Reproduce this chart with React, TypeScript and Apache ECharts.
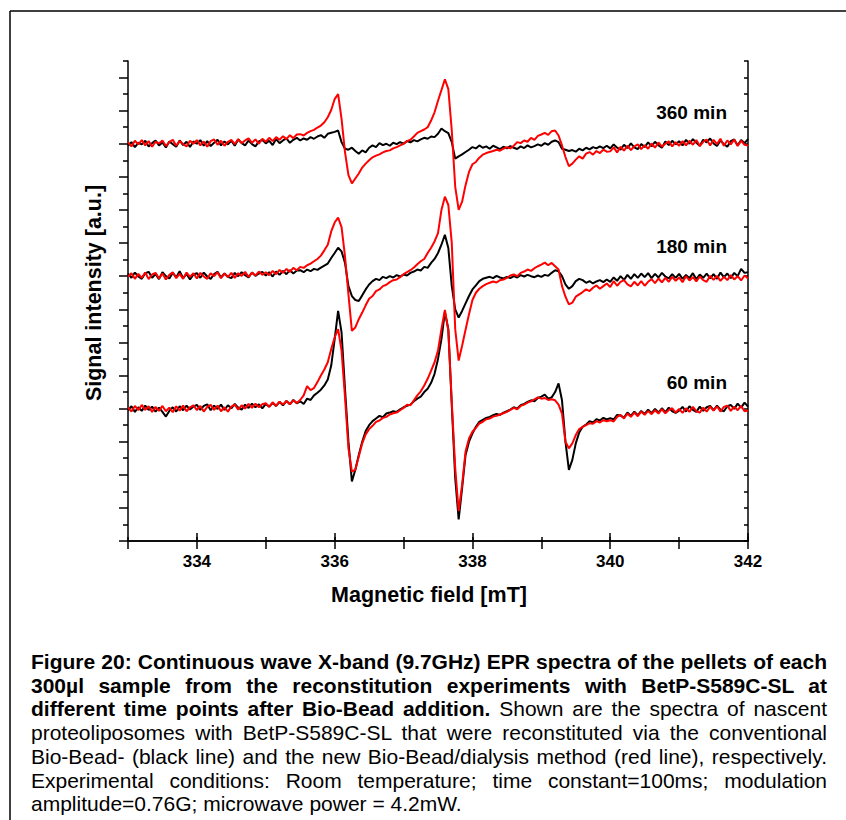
import React, { useEffect, useRef } from "react";
import * as echarts from "echarts";

// Magnetic field grid of the sweep (mT), 333.00 … 342.00 in 0.05 mT steps
const FIELD: number[] = Array.from({ length: 181 }, (_, i) => Number((333 + i * 0.05).toFixed(2)));

// Vertical offsets (in major-tick units) of the three stacked spectra
const OFFSET_360 = 12;
const OFFSET_180 = 8;
const OFFSET_60 = 4;

// Signal (major-tick units, relative to each baseline)
const BLACK_360 = [
  -0.06, 0.05, -0.1, 0.03, -0.02, 0.09, -0.08, 0.02, 0.1, -0.05,
  0.04, -0.11, 0.07, -0.01, -0.09, 0.1, -0.04, 0.06, -0.1, 0.07,
  0.0, 0.11, -0.06, 0.08, -0.07, 0.03, 0.12, -0.05, 0.07, -0.02,
  0.09, -0.06, 0.13, 0.02, -0.05, 0.1, -0.01, -0.08, 0.07, 0.12,
  0.01, 0.09, -0.04, 0.14, 0.02, 0.1, 0.16, 0.03, 0.12, 0.18,
  0.1, 0.16, 0.12, 0.2, 0.15, 0.22, 0.26, 0.18, 0.3, 0.33,
  0.36, 0.4, 0.05, -0.15, -0.18, -0.12, -0.22, -0.3, -0.2, -0.26,
  -0.12, -0.05, -0.1, 0.02, -0.04, 0.0, -0.06, 0.03, -0.01, 0.05,
  0.0, 0.08, 0.04, 0.11, 0.07, 0.13, 0.18, 0.15, 0.22, 0.2,
  0.3, 0.46, 0.38, 0.32, 0.05, -0.45, -0.38, -0.32, -0.25, -0.18,
  -0.1, -0.14, -0.05, -0.12, -0.08, -0.15, -0.06, -0.11, -0.16, -0.09,
  -0.14, -0.07, -0.12, -0.16, -0.08, -0.13, -0.05, -0.11, -0.07, -0.02,
  -0.06, 0.02, -0.03, 0.06, 0.1, 0.05, -0.15, -0.18, -0.22, -0.19,
  -0.24, -0.15, -0.2, -0.12, -0.17, -0.1, -0.14, -0.08, -0.13, -0.06,
  -0.14, -0.02, -0.12, -0.18, -0.03, -0.13, 0.01, -0.11, -0.16, -0.01,
  -0.1, 0.04, -0.08, 0.06, -0.05, -0.12, 0.07, -0.04, 0.09, -0.02,
  0.08, -0.05, 0.12, 0.0, 0.14, 0.03, -0.06, 0.12, 0.04, 0.16,
  0.01, -0.07, 0.1, -0.01, -0.09, 0.08, 0.13, -0.05, 0.11, 0.02,
  0.14,
];

const RED_360 = [
  0.05, -0.08, 0.09, -0.02, 0.11, -0.05, 0.08, -0.09, 0.06, 0.01,
  0.1, -0.07, 0.05, 0.12, -0.06, 0.08, -0.01, -0.08, 0.09, 0.0,
  0.11, -0.05, 0.07, -0.09, 0.08, 0.13, -0.03, 0.09, -0.06, 0.06,
  0.12, -0.01, 0.14, 0.02, 0.1, 0.16, 0.03, 0.13, 0.0, 0.15,
  0.06, 0.18, 0.08, 0.2, 0.12, 0.23, 0.14, 0.26, 0.17, 0.28,
  0.29, 0.25, 0.33, 0.38, 0.42, 0.49, 0.55, 0.65, 0.8, 1.02,
  1.35, 1.5, 0.75, -0.25, -0.95, -1.2, -1.05, -0.9, -0.72, -0.6,
  -0.5, -0.41, -0.36, -0.32, -0.26, -0.22, -0.2, -0.14, -0.1, -0.05,
  0.0, 0.08, 0.12, 0.22, 0.33, 0.38, 0.43, 0.5, 0.7, 0.95,
  1.3, 1.62, 1.95, 1.65, 0.4, -1.3, -2.0, -1.75, -1.25, -0.85,
  -0.62, -0.55, -0.42, -0.33, -0.28, -0.25, -0.22, -0.18, -0.21, -0.15,
  -0.1, -0.14, -0.06, 0.05, 0.02, 0.1, 0.06, 0.18, 0.12, 0.24,
  0.28, 0.33, 0.27, 0.38, 0.4, 0.25, -0.05, -0.4, -0.68, -0.6,
  -0.48, -0.38, -0.45, -0.3, -0.25, -0.33, -0.22, -0.28, -0.18, -0.24,
  -0.23, -0.11, -0.26, -0.09, -0.21, -0.06, -0.19, -0.08, -0.02, -0.16,
  -0.04, -0.15, 0.01, -0.12, 0.04, -0.09, 0.0, 0.07, -0.08, 0.05,
  -0.06, 0.08, -0.05, 0.09, -0.03, 0.11, -0.07, 0.06, 0.13, -0.05,
  0.12, -0.01, 0.15, -0.06, 0.1, -0.02, 0.13, -0.07, 0.09, -0.03,
  -0.05,
];

const BLACK_180 = [
  0.08, -0.05, 0.11, -0.01, -0.08, 0.09, 0.13, -0.05, 0.06, -0.09,
  0.12, 0.0, -0.07, 0.1, -0.03, 0.15, -0.06, 0.07, -0.1, 0.05,
  0.09, -0.05, 0.11, -0.01, -0.08, 0.06, 0.13, -0.04, 0.08, -0.02,
  -0.06, 0.1, 0.0, 0.12, 0.03, -0.04, 0.11, 0.01, 0.08, 0.13,
  0.02, 0.12, -0.01, 0.14, 0.04, 0.16, 0.06, 0.18, 0.08, 0.17,
  0.18, 0.12, 0.2, 0.15, 0.22, 0.19, 0.26, 0.32, 0.38, 0.55,
  0.7, 0.86, 0.75, 0.4, -0.3, -0.6, -0.72, -0.75, -0.58, -0.4,
  -0.25, -0.15, -0.08, -0.12, -0.02, -0.06, 0.0, -0.04, 0.03, -0.01,
  0.05, 0.02, 0.1, 0.14, 0.2, 0.17, 0.28, 0.25, 0.4, 0.52,
  0.7, 0.95, 1.25, 0.85, -0.3, -1.0, -1.25, -1.05, -0.82, -0.6,
  -0.4, -0.28, -0.15, -0.08, -0.05, -0.02, -0.06, 0.01, -0.04, -0.07,
  -0.02, -0.06, 0.0, -0.04, 0.03, -0.01, 0.04, 0.0, -0.03, 0.02,
  -0.02, 0.04, 0.01, 0.1, 0.18, 0.15, 0.0, -0.25, -0.38, -0.3,
  -0.15, -0.08, -0.12, -0.2, -0.15, -0.22, -0.16, -0.12, -0.18, -0.1,
  -0.17, -0.04, -0.14, 0.0, -0.11, 0.04, -0.08, 0.06, -0.05, 0.08,
  -0.03, 0.09, -0.06, 0.07, -0.04, 0.1, -0.01, -0.07, 0.06, -0.05,
  0.07, -0.08, 0.04, -0.06, 0.09, -0.09, 0.05, -0.05, 0.08, -0.07,
  0.06, -0.08, 0.11, -0.03, 0.08, -0.06, 0.1, 0.0, 0.22, 0.1,
  0.12,
];

const RED_180 = [
  -0.02, 0.09, -0.08, 0.07, -0.05, 0.11, -0.09, 0.05, 0.1, -0.07,
  0.08, -0.1, 0.04, 0.12, -0.06, 0.07, -0.08, 0.11, -0.02, 0.09,
  -0.07, 0.1, -0.01, -0.08, 0.09, 0.0, 0.12, -0.06, 0.08, -0.03,
  0.1, -0.05, 0.09, 0.01, 0.13, -0.02, 0.11, 0.02, 0.14, 0.04,
  0.12, 0.03, 0.16, 0.06, 0.19, 0.1, 0.22, 0.13, 0.25, 0.18,
  0.28, 0.25, 0.33, 0.38, 0.45, 0.52, 0.62, 0.78, 0.95, 1.35,
  1.62, 1.77, 1.48, 0.6, -0.55, -1.65, -1.55, -1.3, -1.1, -0.88,
  -0.68, -0.6, -0.45, -0.4, -0.3, -0.26, -0.18, -0.12, -0.1, -0.03,
  0.06, 0.12, 0.18, 0.26, 0.36, 0.45, 0.52, 0.7, 0.86, 1.05,
  1.3, 2.0, 2.4, 2.15, 1.0, -1.6, -2.55, -2.1, -1.62, -1.15,
  -0.72, -0.5, -0.38, -0.3, -0.24, -0.2, -0.16, -0.19, -0.12, -0.1,
  -0.05, 0.02, 0.05, 0.0, 0.1, 0.14, 0.2, 0.16, 0.24, 0.3,
  0.35, 0.41, 0.33, 0.4, 0.3, 0.2, -0.3, -0.62, -0.85, -0.8,
  -0.62, -0.55, -0.48, -0.4, -0.45, -0.35, -0.28, -0.38, -0.3, -0.22,
  -0.33, -0.15, -0.29, -0.17, -0.12, -0.25, -0.31, -0.17, -0.28, -0.15,
  -0.29, -0.17, -0.09, -0.21, -0.07, -0.19, -0.05, -0.17, -0.02, -0.14,
  -0.04, -0.18, 0.0, -0.13, -0.03, -0.16, -0.01, -0.12, -0.17, 0.01,
  -0.11, 0.01, -0.14, -0.02, -0.12, 0.03, -0.1, 0.0, -0.13, 0.02,
  -0.07,
];

const BLACK_60 = [
  -0.05, 0.07, -0.1, 0.04, -0.07, 0.09, -0.04, 0.06, -0.09, 0.03,
  -0.1, -0.24, -0.07, 0.04, -0.09, 0.07, -0.05, 0.09, -0.03, 0.06,
  0.11, -0.04, 0.08, 0.13, -0.05, 0.09, -0.01, 0.12, -0.04, 0.1,
  0.01, 0.14, 0.03, -0.03, 0.12, 0.02, 0.15, 0.04, 0.13, 0.01,
  0.14, 0.06, 0.17, 0.08, 0.2, 0.1, 0.23, 0.13, 0.26, 0.16,
  0.22, 0.14, 0.3, 0.26, 0.4, 0.48, 0.57, 0.7, 0.88, 1.3,
  2.1, 2.95, 2.3, 0.6, -1.0, -2.2, -1.85, -1.4, -1.0, -0.68,
  -0.5, -0.38, -0.3, -0.22, -0.26, -0.15, -0.12, -0.08, -0.1, -0.02,
  0.04, 0.08, 0.12, 0.22, 0.3, 0.36, 0.5, 0.6, 0.78, 1.05,
  1.5, 2.1, 2.92, 2.4, 0.1, -2.1, -3.35, -2.4, -1.4, -1.0,
  -0.75, -0.55, -0.4, -0.34, -0.28, -0.25, -0.2, -0.16, -0.19, -0.12,
  -0.08, -0.03, 0.04, 0.0, 0.1, 0.14, 0.2, 0.25, 0.22, 0.32,
  0.36, 0.42, 0.3, 0.34, 0.5, 0.76, 0.25, -1.0, -1.85, -1.55,
  -1.05, -0.72, -0.55, -0.48, -0.38, -0.42, -0.32, -0.36, -0.28, -0.33,
  -0.29, -0.33, -0.19, -0.21, -0.27, -0.12, -0.22, -0.09, -0.2, -0.07,
  -0.16, -0.03, -0.14, -0.01, -0.12, 0.01, -0.11, 0.03, -0.08, -0.13,
  -0.06, 0.05, -0.09, 0.07, -0.04, -0.1, 0.06, -0.07, 0.04, 0.08,
  -0.05, 0.09, -0.03, -0.08, 0.07, 0.11, -0.01, 0.15, 0.03, 0.18,
  0.06,
];

const RED_60 = [
  0.04, -0.09, 0.08, -0.05, 0.11, -0.04, 0.07, -0.1, 0.05, -0.07,
  0.08, -0.08, 0.03, -0.11, 0.07, -0.06, 0.09, -0.08, 0.04, 0.1,
  -0.05, 0.08, -0.09, 0.05, 0.11, -0.04, 0.09, -0.08, 0.04, -0.09,
  0.06, 0.12, -0.03, 0.1, 0.0, 0.14, 0.02, 0.15, 0.04, 0.13,
  0.16, 0.05, 0.19, 0.08, 0.21, 0.12, 0.23, 0.13, 0.25, 0.17,
  0.26, 0.4, 0.68, 0.56, 0.62, 0.8, 1.0, 1.18, 1.4, 1.8,
  2.15, 2.4, 1.75, 0.35, -1.2, -1.9, -1.85, -1.45, -1.05, -0.78,
  -0.62, -0.52, -0.4, -0.36, -0.28, -0.25, -0.18, -0.14, -0.12, -0.05,
  0.02, 0.12, 0.1, 0.25, 0.4, 0.52, 0.7, 0.9, 1.15, 1.4,
  1.75, 2.4, 2.98, 2.35, 0.2, -1.8, -3.1, -2.3, -1.3, -0.9,
  -0.7, -0.58, -0.45, -0.4, -0.32, -0.3, -0.24, -0.22, -0.18, -0.14,
  -0.1, -0.04, 0.02, -0.02, 0.08, 0.12, 0.18, 0.22, 0.28, 0.34,
  0.3, 0.32, 0.26, 0.28, 0.25, 0.12, -0.15, -1.0, -1.2, -1.05,
  -0.8, -0.62, -0.55, -0.5, -0.44, -0.46, -0.38, -0.42, -0.35, -0.38,
  -0.35, -0.39, -0.25, -0.19, -0.3, -0.15, -0.25, -0.12, -0.23, -0.09,
  -0.19, -0.07, -0.17, -0.05, -0.15, -0.02, -0.14, -0.04, 0.01, -0.12,
  -0.01, -0.13, 0.01, -0.1, 0.05, -0.08, -0.12, 0.03, -0.09, 0.06,
  -0.06, 0.07, -0.09, 0.05, 0.09, -0.07, 0.06, -0.05, 0.08, -0.08,
  -0.06,
];

// Axis ticks / labels
const X_LABELS = [334, 336, 338, 340, 342];
const Y_MAJOR = [0, 1, 2, 3, 4, 5, 6, 7, 8, 9, 10, 11, 12, 13, 14];
const Y_MINOR = [0.5, 1.5, 2.5, 3.5, 4.5, 5.5, 6.5, 7.5, 8.5, 9.5, 10.5, 11.5, 12.5, 13.5, 14.5];

const TIME_LABELS = ["360 min", "180 min", "60 min"];
const TIME_LABEL_Y = [112, 246, 382];

type Seg = [string, boolean];
const CAPTION: Seg[][] = [
  [["Figure 20: Continuous wave X-band (9.7GHz) EPR spectra of the pellets of each", true]],
  [["300µl sample from the reconstitution experiments with BetP-S589C-SL at", true]],
  [["different time points after Bio-Bead addition.", true], [" Shown are the spectra of nascent", false]],
  [["proteoliposomes with BetP-S589C-SL that were reconstituted via the conventional", false]],
  [["Bio-Bead- (black line) and the new Bio-Bead/dialysis method (red line), respectively.", false]],
  [["Experimental conditions: Room temperature; time constant=100ms; modulation", false]],
  [["amplitude=0.76G; microwave power = 4.2mW.", false]],
];

const FONT = "'Liberation Sans', Arial, Helvetica, sans-serif";

function pairs(vals: number[], offset: number) {
  return FIELD.map((b, i) => [b, offset + vals[i]]);
}

export default function App() {
  const ref = useRef<HTMLDivElement>(null);

  useEffect(() => {
    if (!ref.current) return;
    const chart = echarts.init(ref.current, undefined, { renderer: "svg" });
    const axisLine = { show: true, lineStyle: { color: "#000", width: 1.5 } };
    const tickLine = { color: "#000", width: 1.5 };
    const lineSeries = (name: string, vals: number[], offset: number, color: string) => ({
      name,
      type: "line",
      xAxisIndex: 0,
      yAxisIndex: 0,
      data: pairs(vals, offset),
      showSymbol: false,
      symbol: "none",
      lineStyle: { color, width: 2 },
      z: color === "#000" ? 2 : 3,
    });

    chart.setOption({
      animation: false,
      backgroundColor: "#fff",
      textStyle: { fontFamily: FONT },
      grid: { left: 128, top: 61, width: 620, height: 480 },
      xAxis: [
        {
          type: "value",
          position: "bottom",
          min: 333,
          max: 342,
          interval: 1,
          axisLine,
          axisTick: { show: true, inside: false, length: 8, lineStyle: tickLine },
          axisLabel: {
            show: true,
            margin: 12,
            fontSize: 17,
            fontWeight: "bold",
            color: "#000",
            fontFamily: FONT,
            formatter: (v: number) => (X_LABELS.includes(v) ? String(v) : ""),
          },
          splitLine: { show: false },
        },
        {
          type: "value",
          position: "top",
          min: 333,
          max: 342,
          interval: 1,
          axisLine,
          axisTick: { show: true, inside: false, length: 4, lineStyle: tickLine },
          axisLabel: { show: false },
          splitLine: { show: false },
        },
        {
          type: "value",
          position: "top",
          min: 333,
          max: 342,
          interval: 1,
          axisLine: { show: false },
          axisTick: { show: true, inside: false, length: 8, lineStyle: tickLine, customValues: X_LABELS },
          axisLabel: { show: false },
          splitLine: { show: false },
        },
      ],
      yAxis: [
        {
          type: "value",
          position: "left",
          min: 0,
          max: 14.5,
          interval: 0.5,
          axisLine,
          axisTick: { show: true, inside: false, length: 9, lineStyle: tickLine, customValues: Y_MAJOR },
          axisLabel: { show: false },
          splitLine: { show: false },
        },
        {
          type: "value",
          position: "left",
          min: 0,
          max: 14.5,
          interval: 0.5,
          axisLine: { show: false },
          axisTick: { show: true, inside: false, length: 5, lineStyle: tickLine, customValues: Y_MINOR },
          axisLabel: { show: false },
          splitLine: { show: false },
        },
        {
          type: "value",
          position: "right",
          min: 0,
          max: 14.5,
          interval: 0.5,
          axisLine,
          axisTick: { show: true, inside: true, length: 4, lineStyle: tickLine },
          axisLabel: { show: false },
          splitLine: { show: false },
        },
      ],
      graphic: [
        { type: "line", shape: { x1: 10, y1: 11, x2: 846, y2: 11 }, style: { stroke: "#000", lineWidth: 1.5 } },
        { type: "line", shape: { x1: 10, y1: 11, x2: 10, y2: 820 }, style: { stroke: "#000", lineWidth: 1.5 } },
        {
          type: "text",
          x: 94,
          y: 293,
          rotation: Math.PI / 2,
          style: {
            text: "Signal intensity [a.u.]",
            fill: "#000",
            font: `bold 21.5px ${FONT}`,
            textAlign: "center",
            textVerticalAlign: "middle",
          },
        },
        {
          type: "text",
          x: 429,
          y: 595,
          style: {
            text: "Magnetic field [mT]",
            fill: "#000",
            font: `bold 21.5px ${FONT}`,
            textAlign: "center",
            textVerticalAlign: "middle",
          },
        },
        ...TIME_LABELS.map((t, i) => ({
          type: "text",
          x: 727,
          y: TIME_LABEL_Y[i],
          style: {
            text: t,
            fill: "#000",
            font: `bold 19px ${FONT}`,
            textAlign: "right",
            textVerticalAlign: "middle",
          },
        })),
      ],
      series: [
        lineSeries("360 min BioBead", BLACK_360, OFFSET_360, "#000"),
        lineSeries("360 min BioBead/dialysis", RED_360, OFFSET_360, "#ff0000"),
        lineSeries("180 min BioBead", BLACK_180, OFFSET_180, "#000"),
        lineSeries("180 min BioBead/dialysis", RED_180, OFFSET_180, "#ff0000"),
        lineSeries("60 min BioBead", BLACK_60, OFFSET_60, "#000"),
        lineSeries("60 min BioBead/dialysis", RED_60, OFFSET_60, "#ff0000"),
      ],
    });
    return () => chart.dispose();
  }, []);

  return (
    <div style={{ position: "fixed", left: 0, top: 0, width: 846, height: 820, background: "#fff", overflow: "hidden" }}>
      <div ref={ref} style={{ position: "absolute", left: 0, top: 0, width: 846, height: 820 }} />
      <div
        style={{
          position: "absolute",
          left: 31,
          top: 650,
          width: 796,
          fontFamily: FONT,
          fontSize: 21,
          lineHeight: "23.7px",
          color: "#000",
        }}
      >
        {CAPTION.map((line, i) => (
          <div
            key={i}
            style={{
              textAlign: "justify",
              textAlignLast: i === CAPTION.length - 1 ? "left" : "justify",
            }}
          >
            {line.map(([t, b], j) => (
              <span key={j} style={{ fontWeight: b ? "bold" : "normal" }}>
                {t}
              </span>
            ))}
          </div>
        ))}
      </div>
    </div>
  );
}
